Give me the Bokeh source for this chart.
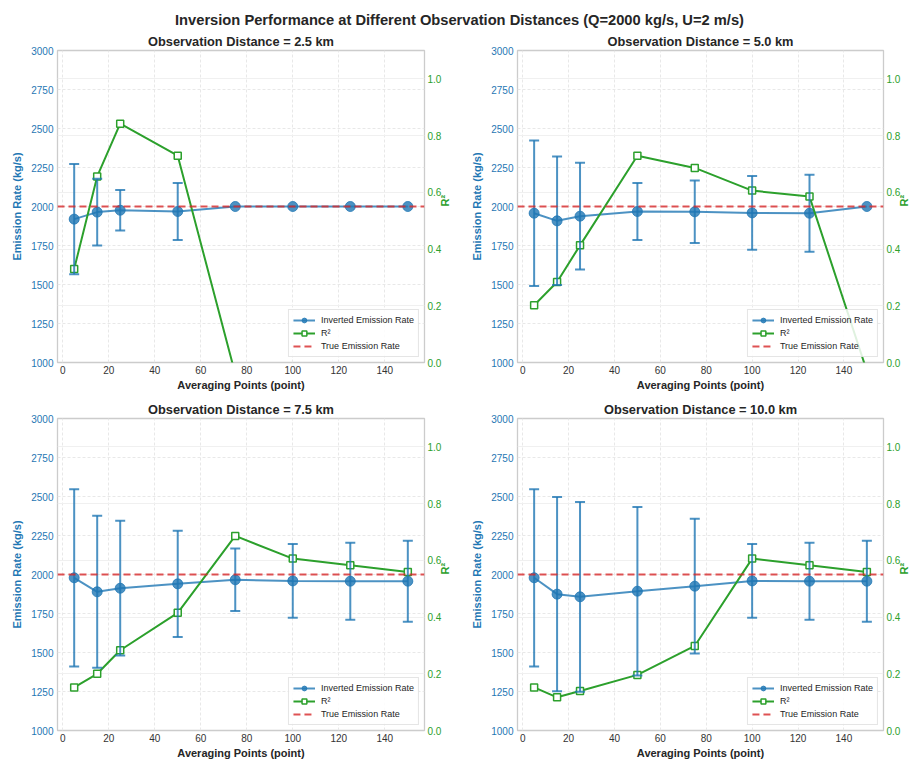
import math

from bokeh.plotting import figure
from bokeh.models import (Range1d, LinearAxis, Whisker, TeeHead, ColumnDataSource, Grid,
                          Legend, LegendItem, Span, FixedTicker, NumeralTickFormatter, Div)
from bokeh.layouts import column, row
from bokeh.embed import file_html
from bokeh.resources import INLINE

# ---- data -------------------------------------------------------------
avg_points = [5, 15, 25, 50, 75, 100, 125, 150]
true_rate = 2000

distances = ["2.5", "5.0", "7.5", "10.0"]

rate_2_5 = [1919, 1964, 1976, 1968, 2000, 2000, 2000, 2000]
err_2_5 = [354, 214, 130, 182, 0, 0, 0, 0]
r2_2_5 = [0.330, 0.656, 0.842, 0.729, -0.04, -0.65, -1.30, -2.10]

rate_5_0 = [1957, 1908, 1938, 1968, 1966, 1959, 1957, 2000]
err_5_0 = [466, 412, 342, 182, 200, 237, 247, 0]
r2_5_0 = [0.202, 0.284, 0.413, 0.729, 0.686, 0.606, 0.585, -0.03]

rate_7_5 = [1979, 1889, 1912, 1940, 1966, 1959, 1957, 1957]
err_7_5 = [568, 487, 432, 341, 200, 237, 247, 260]
r2_7_5 = [0.152, 0.200, 0.283, 0.415, 0.686, 0.606, 0.583, 0.559]

rate_10_0 = [1979, 1874, 1857, 1893, 1925, 1959, 1957, 1957]
err_10_0 = [568, 623, 608, 540, 432, 237, 247, 260]
r2_10_0 = [0.152, 0.117, 0.139, 0.196, 0.298, 0.606, 0.583, 0.559]

x_ticks = [0, 20, 40, 60, 80, 100, 120, 140]
rate_ticks = [1000, 1250, 1500, 1750, 2000, 2250, 2500, 2750, 3000]
r2_ticks = [0.0, 0.2, 0.4, 0.6, 0.8, 1.0]

# ---- style ------------------------------------------------------------
FONT = "Liberation Sans"
BLUE = "#1f77b4"
GREEN = "#2ca02c"
RED = "#d62728"
TEXT = "#262626"


def panel(dist, rate, err, r2, top_border, bottom_border, fig_width):
    p = figure(width=fig_width, frame_height=312,
               x_range=Range1d(-2.25, 157.25), y_range=Range1d(1000, 3000),
               output_backend="svg", toolbar_location=None,
               min_border_left=57, min_border_right=0,
               min_border_top=top_border, min_border_bottom=bottom_border,
               background_fill_color="white", border_fill_color="white")
    p.title.text = f"Observation Distance = {dist} km"
    p.title.align = "center"
    p.title.text_font = FONT
    p.title.text_font_size = "12.8px"
    p.title.text_font_style = "bold"
    p.title.text_color = TEXT
    p.title.standoff = 3

    p.outline_line_color = "#cccccc"
    p.outline_line_width = 1.3

    p.extra_y_ranges = {"r2": Range1d(0, 1.1)}
    right = LinearAxis(y_range_name="r2")
    p.add_layout(right, "right")

    for ax in [p.xaxis[0], p.yaxis[0], right]:
        ax.axis_line_color = None
        ax.major_tick_line_color = None
        ax.minor_tick_line_color = None
        ax.major_tick_out = 0
        ax.major_tick_in = 0
        ax.minor_tick_out = 0
        ax.minor_tick_in = 0
        ax.major_label_text_font = FONT
        ax.major_label_text_font_size = "10px"
        ax.axis_label_text_font = FONT
        ax.axis_label_text_font_size = "11px"
        ax.axis_label_text_font_style = "bold"
        ax.major_label_standoff = 4
        ax.axis_label_standoff = 4

    p.xaxis.ticker = FixedTicker(ticks=x_ticks)
    p.xaxis.axis_label = "Averaging Points (point)"
    p.xaxis.axis_label_text_color = TEXT
    p.xaxis.major_label_text_color = "#333333"
    p.xaxis.major_label_standoff = 3
    p.xaxis.axis_label_standoff = 2

    p.yaxis[0].ticker = FixedTicker(ticks=rate_ticks)
    p.yaxis[0].axis_label = "Emission Rate (kg/s)"
    p.yaxis[0].axis_label_text_color = BLUE
    p.yaxis[0].major_label_text_color = BLUE
    p.yaxis[0].axis_label_standoff = 5

    right.ticker = FixedTicker(ticks=r2_ticks)
    right.formatter = NumeralTickFormatter(format="0.0")
    right.axis_label = "R²"
    right.axis_label_text_color = GREEN
    right.major_label_text_color = GREEN
    right.major_label_standoff = 3
    right.axis_label_standoff = 1
    # the R² label reads bottom-to-top, like the left axis label
    if "axis_label_orientation" in right.properties():
        right.axis_label_orientation = math.pi / 2

    # grids: dashed for x and emission rate, solid faint for R²
    p.xgrid.grid_line_color = "#e8e8e8"
    p.xgrid.grid_line_dash = "3 2"
    p.ygrid.grid_line_color = "#e8e8e8"
    p.ygrid.grid_line_dash = "3 2"
    p.ygrid.ticker = FixedTicker(ticks=rate_ticks)
    g2 = Grid(dimension=1, ticker=FixedTicker(ticks=r2_ticks), y_range_name="r2",
              grid_line_color="#f0f0f0", grid_line_width=1)
    p.add_layout(g2, "center")

    # error bars (only where there is a spread)
    keep = [i for i, e in enumerate(err) if e > 0]
    wsrc = ColumnDataSource(dict(
        x=[avg_points[i] for i in keep],
        upper=[rate[i] + err[i] for i in keep],
        lower=[rate[i] - err[i] for i in keep]))
    wh = Whisker(base="x", upper="upper", lower="lower", source=wsrc,
                 line_color=BLUE, line_alpha=0.8, line_width=2, level="glyph",
                 upper_head=TeeHead(size=10, line_color=BLUE, line_alpha=0.8, line_width=2),
                 lower_head=TeeHead(size=10, line_color=BLUE, line_alpha=0.8, line_width=2))
    p.add_layout(wh)

    src = ColumnDataSource(dict(x=avg_points, rate=rate, r2=r2))
    bl = p.line("x", "rate", source=src, line_color=BLUE, line_alpha=0.8, line_width=2)
    bc = p.scatter("x", "rate", source=src, marker="circle", size=10,
                   fill_color=BLUE, line_color=BLUE, fill_alpha=0.8, line_alpha=0.8)

    span = Span(location=true_rate, dimension="width", line_color=RED, line_alpha=0.8,
                line_width=2, line_dash="7 4", level="glyph")
    p.add_layout(span)
    # single-point line: invisible in the plot, supplies the legend key for the span
    red_key = p.line([avg_points[0]], [true_rate], line_color=RED, line_alpha=0.8,
                     line_width=2, line_dash="7 4")

    gl = p.line("x", "r2", source=src, y_range_name="r2", line_color=GREEN, line_width=2)
    gs = p.scatter("x", "r2", source=src, y_range_name="r2", marker="square", size=7,
                   fill_color="white", line_color=GREEN, line_width=1.5)

    legend = Legend(items=[
        LegendItem(label="Inverted Emission Rate", renderers=[bl, bc]),
        LegendItem(label="R²", renderers=[gl, gs]),
        LegendItem(label="True Emission Rate", renderers=[red_key]),
    ], location="bottom_right")
    legend.label_text_font = FONT
    legend.label_text_font_size = "9px"
    legend.label_text_color = TEXT
    legend.label_height = 12
    legend.glyph_height = 12
    legend.glyph_width = 22
    legend.label_standoff = 6
    legend.spacing = 1
    legend.padding = 4
    legend.margin = 5
    legend.border_line_color = "#cccccc"
    legend.border_line_width = 1
    legend.background_fill_alpha = 0.85
    p.add_layout(legend)
    return p


p1 = panel(distances[0], rate_2_5, err_2_5, r2_2_5, 22, 36, 460)
p2 = panel(distances[1], rate_5_0, err_5_0, r2_5_0, 22, 36, 459)
p3 = panel(distances[2], rate_7_5, err_7_5, r2_7_5, 20, 30, 460)
p4 = panel(distances[3], rate_10_0, err_10_0, r2_10_0, 20, 30, 459)

title = Div(text="Inversion Performance at Different Observation Distances (Q=2000 kg/s, U=2 m/s)",
            width=919, height=28, margin=(0, 0, 0, 0),
            styles={"text-align": "center", "font-family": FONT, "font-size": "14.7px",
                    "font-weight": "bold", "color": TEXT, "padding-top": "10px",
                    "width": "919px"})

layout = column(title, row(p1, p2), row(p3, p4), spacing=0)

open("out.html", "w").write(file_html(layout, INLINE))
